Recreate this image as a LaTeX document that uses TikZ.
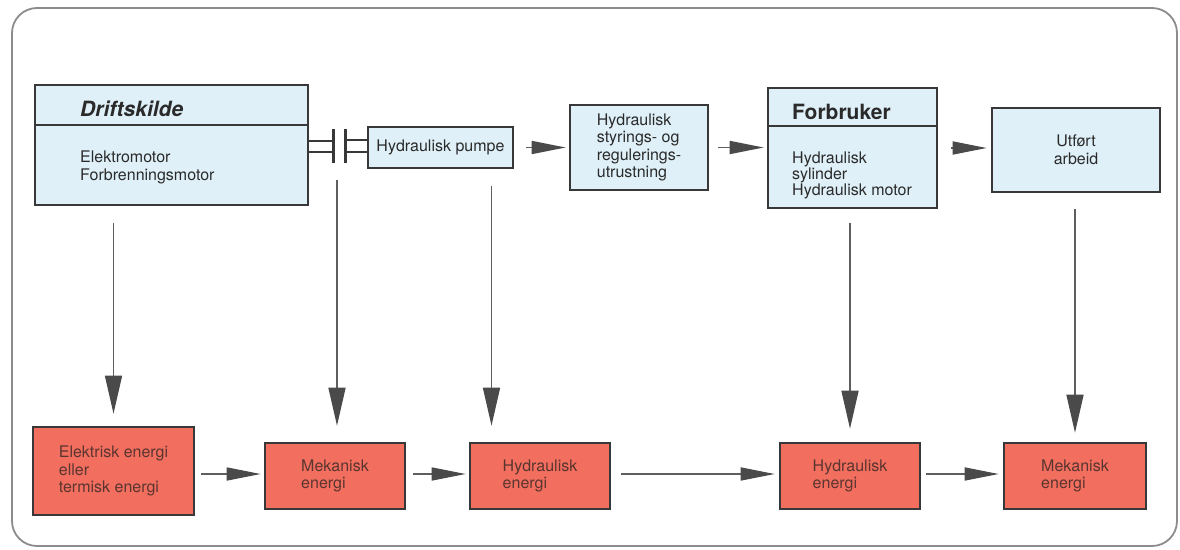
\documentclass[tikz,border=0pt]{standalone}
\usepackage{fontspec}
\setmainfont{TeX Gyre Heros}
\usetikzlibrary{arrows.meta,calc}
\definecolor{topc}{HTML}{DFF0F8}
\definecolor{botc}{HTML}{F26E5E}
\definecolor{bordc}{HTML}{383838}
\definecolor{arrc}{HTML}{5E5E5E}
\definecolor{headc}{HTML}{4A4A4A}
\definecolor{framec}{HTML}{8C8C8C}
\definecolor{toptxt}{HTML}{2A2A2A}
\definecolor{bottxt}{HTML}{5A3530}
\newcommand\bodyf{\fontsize{16}{17.5}\selectfont}
\newcommand\headf{\fontsize{21}{24}\selectfont\bfseries}
\tikzset{
  topbox/.style={draw=bordc, line width=2.6pt, fill=topc, inner sep=0pt},
  botbox/.style={draw=bordc, line width=2.6pt, fill=botc, inner sep=0pt,
    text=bottxt, align=left, font=\bodyf},
  toptext/.style={anchor=base west, inner sep=0pt, text=toptxt, font=\bodyf},
  headtext/.style={anchor=base west, inner sep=0pt, text=toptxt, font=\headf},
  harrow/.style={draw=arrc, line width=1.5pt,
    -{Triangle[length=34pt,width=13pt,fill=headc,color=headc]}},
  varrow/.style={draw=arrc, line width=1.5pt,
    -{Triangle[length=38pt,width=17pt,fill=headc,color=headc]}},
  plate/.style={draw=bordc, line width=3pt},
  shaft/.style={draw=bordc, line width=1.8pt},
}
\begin{document}
\begin{tikzpicture}[x=1pt,y=-1pt]
\useasboundingbox (0,0) rectangle (1180,549);
\fill[white] (0,0) rectangle (1180,549);
\draw[framec, line width=1.8pt, rounded corners=25pt] (12,8) rectangle (1177,546);

% top row
\node[topbox, minimum width=273pt, minimum height=120pt] (drift) at (171.5,145) {};
\draw[draw=bordc, line width=2.6pt] (drift.west |- 0,125) -- (drift.east |- 0,125);
\node[headtext, font=\headf\itshape] (drifth) at (80,116) {Driftskilde};
\node[toptext] (drift1) at (80,162) {Elektromotor};
\node[toptext] (drift2) at (80,180) {Forbrenningsmotor};

\node[topbox, minimum width=145pt, minimum height=41pt, text=toptxt, font=\bodyf] (pump) at (440.5,147.5) {Hydraulisk pumpe};

\node[topbox, minimum width=138pt, minimum height=85pt, text=toptxt, font=\bodyf, align=left] (styr) at (639,147.5)
  {Hydraulisk\\styrings- og\\regulerings-\\utrustning};

\node[topbox, minimum width=169pt, minimum height=120pt] (forb) at (852.5,148) {};
\draw[draw=bordc, line width=2.6pt] (forb.west |- 0,126) -- (forb.east |- 0,126);
\node[headtext] (forbh) at (792,119) {Forbruker};
\node[toptext] (forb1) at (792,163) {Hydraulisk};
\node[toptext] (forb2) at (792,179) {sylinder};
\node[toptext] (forb3) at (792,195) {Hydraulisk motor};

\node[topbox, minimum width=168pt, minimum height=84pt, text=toptxt, font=\bodyf, align=center] (utf) at (1076,150)
  {Utført\\arbeid};

% coupling
\draw[shaft] (drift.east |- 0,141) -- (333,141);
\draw[shaft] (drift.east |- 0,152) -- (333,152);
\draw[plate] (333,129) -- (333,163);
\draw[plate] (345,129) -- (345,163);
\draw[shaft] (345,140) -- (pump.west |- 0,140);
\draw[shaft] (345,152) -- (pump.west |- 0,152);
\coordinate (cpl) at (337,163);

% bottom row
\node[botbox, minimum width=161pt, minimum height=88pt] (elec) at (113.5,471)
  {Elektrisk energi\\eller\\termisk energi};
\node[botbox, minimum width=140pt, minimum height=66pt] (mek1) at (335,476) {Mekanisk\\energi};
\node[botbox, minimum width=140pt, minimum height=66pt] (hyd1) at (540,476) {Hydraulisk\\energi};
\node[botbox, minimum width=140pt, minimum height=66pt] (hyd2) at (850,476) {Hydraulisk\\energi};
\node[botbox, minimum width=142pt, minimum height=66pt] (mek2) at (1075,476) {Mekanisk\\energi};

% horizontal arrows, top
\draw[harrow] ([xshift=12pt]pump.east) -- ([xshift=-3pt]styr.west);
\draw[harrow] ([xshift=9pt]styr.east) -- ($(styr.east -| forb.west)+(-3,0)$);
\draw[harrow] ([xshift=13pt]forb.east) -- ($(forb.east -| utf.west)+(-4,0)$);

% horizontal arrows, bottom
\draw[harrow] ($(elec.east |- mek1.west)+(6,-2)$) -- ($(mek1.west)+(-3,-2)$);
\draw[harrow] ($(mek1.east)+(7,-2)$) -- ($(hyd1.west)+(-3,-2)$);
\draw[harrow] ($(hyd1.east)+(10,-2)$) -- ($(hyd2.west)+(-4,-2)$);
\draw[harrow] ($(hyd2.east)+(5,-2)$) -- ($(mek2.west)+(-4,-2)$);

% vertical arrows
\draw[varrow] ($(drift.south -| elec.north)+(0,17)$) -- ($(elec.north)+(0,-12)$);
\draw[varrow] ($(cpl)+(0,17)$) -- ($(cpl |- mek1.north)+(0,-16)$);
\draw[varrow] ($(pump.south)+(51,17)$) -- ($(pump.south |- hyd1.north)+(51,-16)$);
\draw[varrow] ($(forb.south -| hyd2.north)+(0,14)$) -- ($(hyd2.north)+(0,-13)$);
\draw[varrow] ($(utf.south -| mek2.north)+(0,16)$) -- ($(mek2.north)+(0,-9)$);
\end{tikzpicture}
\end{document}
